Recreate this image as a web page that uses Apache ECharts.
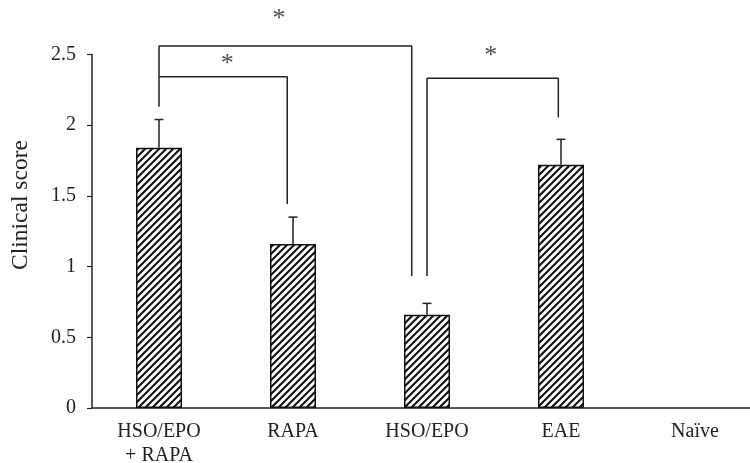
<!DOCTYPE html>
<html>
<head>
<meta charset="utf-8">
<script src="https://cdn.jsdelivr.net/npm/echarts@6/dist/echarts.min.js"></script>
<style>
html,body{margin:0;padding:0;background:#fff;}
#c{width:750px;height:463px;}
</style>
</head>
<body>
<div id="c"></div>
<script>
// ---- data ----
var categories = ['HSO/EPO\n+ RAPA', 'RAPA', 'HSO/EPO', 'EAE', 'Naïve'];
var means = [1.84, 1.16, 0.66, 1.72, 0];
var errors = [0.20, 0.19, 0.08, 0.18, 0];
var yTicks = [0, 0.5, 1, 1.5, 2, 2.5];
// significance brackets (x in category index units, y in score units)
var bracket1 = [[0, 2.13], [0, 2.56], [1.886, 2.56], [1.886, 0.934]];
var bracket2 = [[0, 2.343], [0.957, 2.343], [0.957, 1.443]];
var bracket3 = [[2, 0.934], [2, 2.332], [2.98, 2.332], [2.98, 2.056]];
var stars = [[0.896, 2.75], [0.51, 2.43], [2.475, 2.49]];

// ---- hatch pattern ----
function makeHatch() {
  var s = 7;
  var cv = document.createElement('canvas');
  cv.width = s; cv.height = s;
  var ctx = cv.getContext('2d');
  ctx.fillStyle = '#fff';
  ctx.fillRect(0, 0, s, s);
  ctx.strokeStyle = '#111';
  ctx.lineWidth = 2.1;
  ctx.beginPath();
  ctx.moveTo(-1, s + 1); ctx.lineTo(s + 1, -1);
  ctx.moveTo(-1, 1); ctx.lineTo(1, -1);
  ctx.moveTo(s - 1, s + 1); ctx.lineTo(s + 1, s - 1);
  ctx.stroke();
  return cv;
}

var font = '"Liberation Serif", "Times New Roman", serif';
var ink = '#222';
var chart = echarts.init(document.getElementById('c'));

var errData = means.map(function (m, i) { return [i, m, errors[i]]; });
var barData = means.map(function (m) {
  return m === 0 ? { value: m, itemStyle: { borderWidth: 0 } } : m;
});

function bracketSeries(d) {
  return {
    type: 'line', xAxisIndex: 1, yAxisIndex: 0, data: d,
    symbol: 'none', clip: false, silent: true, animation: false,
    lineStyle: { color: ink, width: 1.5 }, z: 5
  };
}

chart.setOption({
  animation: false,
  backgroundColor: '#fff',
  grid: { left: 92, top: 54.5, width: 670, height: 353.5, containLabel: false, outerBoundsMode: 'none' },
  xAxis: [{
    type: 'category',
    data: categories,
    boundaryGap: true,
    axisLine: { onZero: false, lineStyle: { color: ink, width: 1.5 } },
    axisTick: { alignWithLabel: true, length: 4, lineStyle: { color: ink, width: 1.2 } },
    axisLabel: { color: ink, fontFamily: font, fontSize: 20, lineHeight: 24, margin: 12, interval: 0 },
    splitLine: { show: false }
  }, {
    type: 'value', min: -0.5, max: 4.5, show: false
  }],
  yAxis: {
    type: 'value',
    min: 0, max: 2.5, interval: 0.5,
    axisLine: { show: true, onZero: false, lineStyle: { color: ink, width: 1.5 } },
    axisTick: { show: true, length: 5, lineStyle: { color: ink, width: 1.2 } },
    axisLabel: {
      color: ink, fontFamily: font, fontSize: 20, margin: 16,
      formatter: function (v) { return yTicks.indexOf(v) >= 0 ? String(v) : ''; }
    },
    splitLine: { show: false }
  },
  graphic: [{
    type: 'text',
    x: 21, y: 205,
    rotation: Math.PI / 2,
    style: {
      text: 'Clinical score',
      fontFamily: font, fontSize: 23.5, fill: ink,
      align: 'center', verticalAlign: 'middle'
    }
  }],
  series: [{
    type: 'bar',
    data: barData,
    barWidth: 46,
    itemStyle: {
      color: { image: makeHatch(), repeat: 'repeat' },
      borderColor: '#111', borderWidth: 1.5
    },
    z: 2
  }, {
    type: 'custom',
    data: errData,
    z: 3,
    renderItem: function (params, api) {
      var i = api.value(0), m = api.value(1), e = api.value(2);
      if (!e) return null;
      var p0 = api.coord([i, m]);
      var p1 = api.coord([i, m + e]);
      var cap = 4.5;
      return {
        type: 'group',
        children: [{
          type: 'line',
          shape: { x1: p0[0], y1: p0[1], x2: p1[0], y2: p1[1] },
          style: { stroke: ink, lineWidth: 1.5 }
        }, {
          type: 'line',
          shape: { x1: p1[0] - cap, y1: p1[1], x2: p1[0] + cap, y2: p1[1] },
          style: { stroke: ink, lineWidth: 1.5 }
        }]
      };
    }
  },
  bracketSeries(bracket1),
  bracketSeries(bracket2),
  bracketSeries(bracket3),
  {
    type: 'scatter', xAxisIndex: 1, yAxisIndex: 0, data: stars,
    symbolSize: 0, clip: false, silent: true,
    label: {
      show: true, position: 'inside', formatter: '*',
      color: ink, fontFamily: font, fontSize: 26
    }
  }]
});
</script>
</body>
</html>
